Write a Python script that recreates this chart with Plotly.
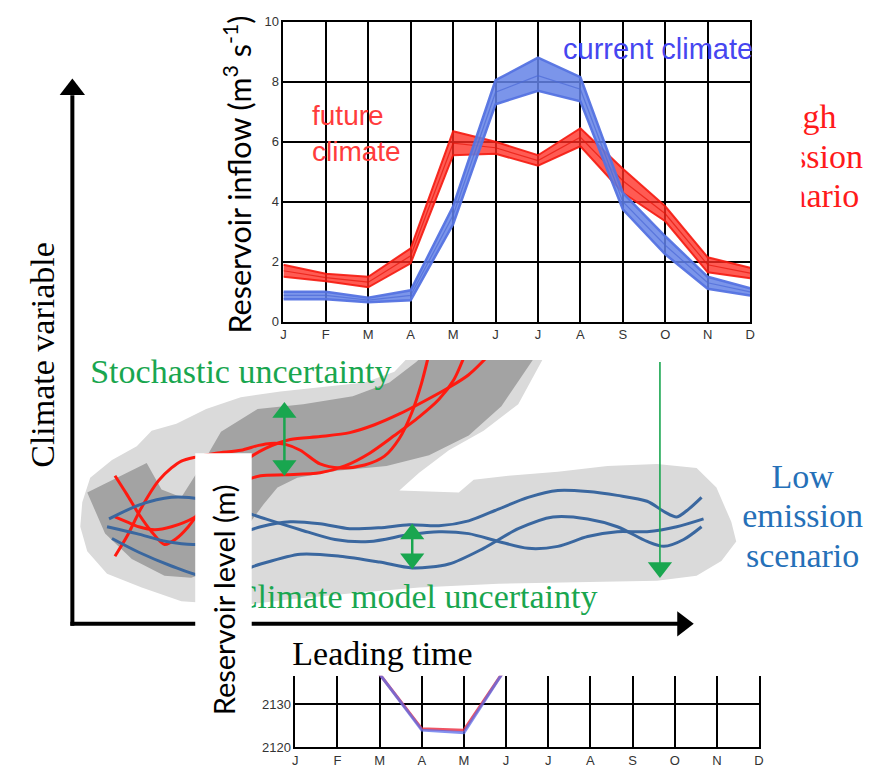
import plotly.graph_objects as go

W, H = 875, 776

# ---------------- upper chart: reservoir inflow (m3 s-1) ----------------
months = ["J", "F", "M", "A", "M", "J", "J", "A", "S", "O", "N", "D"]
month_pos = list(range(12))
future_low = [1.50, 1.35, 1.15, 1.95, 5.55, 5.60, 5.20, 5.85, 4.30, 3.35, 1.65, 1.45]
future_mid = [1.70, 1.47, 1.32, 2.20, 5.95, 5.80, 5.37, 6.15, 4.70, 3.60, 1.90, 1.62]
future_high = [1.90, 1.60, 1.50, 2.45, 6.35, 6.00, 5.55, 6.45, 5.10, 3.85, 2.15, 1.80]
current_low = [0.75, 0.75, 0.65, 0.72, 3.25, 7.25, 7.70, 7.35, 3.75, 2.25, 1.10, 0.88]
current_mid = [0.88, 0.88, 0.72, 0.88, 3.55, 7.65, 8.20, 7.75, 4.00, 2.55, 1.30, 1.00]
current_high = [1.00, 1.00, 0.80, 1.05, 3.85, 8.05, 8.80, 8.15, 4.30, 2.85, 1.50, 1.12]
inflow_ticks = [0, 2, 4, 6, 8, 10]

# ---------------- lower chart: reservoir level (m) ----------------
level_pos = [2, 3, 4, 5]
level_future = [2137.0, 2124.3, 2124.0, 2138.5]
level_current = [2137.0, 2124.0, 2123.4, 2138.5]
level_ticks = [2120, 2130]

# ---------------- schematic (drawn in a pixel-scaled background axis) ----------------
light_x = [80, 88, 110, 135, 150, 175, 205, 240, 280, 320, 365, 395, 425, 555, 520, 485, 450, 420, 400,
           460, 475, 510, 560, 610, 660, 700, 720, 735, 740, 725, 700, 660, 600, 500, 420, 350, 290,
           240, 180, 140, 105, 85, 78, 80]
light_y = [505, 480, 462, 448, 432, 425, 410, 398, 392, 388, 383, 372, 340, 340, 405, 432, 452, 475, 493,
           495, 482, 478, 474, 468, 466, 470, 490, 525, 545, 565, 580, 585, 586, 588, 592, 598, 604,
           610, 606, 592, 578, 555, 530, 505]
dark_x = [85, 145, 160, 180, 200, 220, 257, 303, 353, 390, 417, 440, 548, 533, 503, 470, 430, 387, 337,
          297, 277, 263, 250, 232, 210, 190, 163, 130, 103, 85]
dark_y = [495, 465, 492, 500, 468, 433, 410, 405, 397, 383, 362, 340, 340, 362, 407, 437, 457, 468, 473,
          480, 490, 507, 525, 555, 575, 582, 580, 563, 537, 495]

red1_x = [113, 125, 137, 150, 163, 175, 187, 205, 225, 245, 265, 290, 320, 350, 375, 400, 425, 450, 470, 495]
red1_y = [478, 497, 517, 535, 548, 542, 530, 505, 478, 462, 450, 441, 438, 434, 426, 415, 402, 388, 375, 350]
red2_x = [113, 125, 140, 157, 170, 180, 194, 215, 240, 258, 270, 285, 300, 320, 340, 365, 385, 400, 412, 422, 432]
red2_y = [560, 540, 510, 483, 470, 463, 459, 455, 452, 447, 445, 446, 452, 466, 470, 467, 458, 440, 415, 385, 345]
red3_x = [113, 125, 137, 153, 170, 194, 220, 240, 260, 285, 320, 345, 370, 395, 420, 440, 455, 468]
red3_y = [520, 525, 530, 533, 530, 520, 500, 485, 478, 477, 475, 468, 455, 437, 418, 400, 380, 350]

blue1_x = [107, 137, 170, 200, 235, 265, 300, 335, 370, 410, 440, 470, 500, 530, 560, 590, 620, 650, 680, 707]
blue1_y = [522, 508, 500, 502, 512, 522, 533, 543, 545, 538, 535, 537, 545, 552, 550, 540, 535, 535, 530, 522]
blue2_x = [105, 135, 165, 195, 230, 260, 290, 320, 350, 380, 410, 440, 470, 500, 530, 560, 590, 620, 650, 668, 680, 692, 705]
blue2_y = [530, 537, 545, 548, 540, 530, 525, 527, 532, 531, 528, 529, 524, 512, 500, 493, 494, 498, 504, 515, 520, 512, 500]
blue3_x = [110, 137, 170, 200, 230, 260, 300, 340, 380, 413, 450, 485, 520, 555, 590, 620, 650, 667, 687, 705]
blue3_y = [542, 556, 570, 580, 578, 568, 558, 560, 566, 572, 568, 552, 532, 520, 522, 530, 545, 550, 543, 530]

GREEN = "#19a64f"
RED = "#ff1a10"
BLUE_LINE = "#3a679f"

fig = go.Figure()

def sch(**kw):
    kw.setdefault("hoverinfo", "skip")
    kw.setdefault("showlegend", False)
    fig.add_trace(go.Scatter(xaxis="x", yaxis="y", **kw))

# grey uncertainty clouds
sch(x=light_x, y=light_y, mode="lines", fill="toself", fillcolor="#dadada", line=dict(width=0, color="#dadada"))
sch(x=dark_x, y=dark_y, mode="lines", fill="toself", fillcolor="#a3a3a3", line=dict(width=0, color="#a3a3a3"))

for xs, ys in [(red1_x, red1_y), (red2_x, red2_y), (red3_x, red3_y)]:
    sch(x=xs, y=ys, mode="lines", line=dict(color=RED, width=3, shape="spline", smoothing=0.8))
for xs, ys in [(blue1_x, blue1_y), (blue2_x, blue2_y), (blue3_x, blue3_y)]:
    sch(x=xs, y=ys, mode="lines", line=dict(color=BLUE_LINE, width=3, shape="spline", smoothing=0.8))

# green arrows: (x, y_top_tip, y_bottom_tip, double?, width)
green_arrows = [(284, 403, 478, True, 2.5), (413, 527, 573, True, 2.5), (663, 362, 582, False, 1.6)]
HS = 21
for gx, yt, yb, dbl, lw in green_arrows:
    sch(x=[gx, gx], y=[yt + (HS * 0.6 if dbl else 0), yb - HS * 0.6], mode="lines",
        line=dict(color=GREEN, width=lw))
    sch(x=[gx], y=[yb - HS / 2], mode="markers",
        marker=dict(symbol="triangle-down", size=HS, color=GREEN))
    if dbl:
        sch(x=[gx], y=[yt + HS / 2], mode="markers",
            marker=dict(symbol="triangle-up", size=HS, color=GREEN))

# black schematic axes
AX = 22
sch(x=[70, 70], y=[631, 90], mode="lines", line=dict(color="black", width=4))
sch(x=[70], y=[73 + AX / 2], mode="markers", marker=dict(symbol="triangle-up", size=AX, color="black"))
sch(x=[68, 684], y=[629, 629], mode="lines", line=dict(color="black", width=4))
sch(x=[697 - AX / 2], y=[629], mode="markers", marker=dict(symbol="triangle-right", size=AX, color="black"))

SERIF = "Liberation Serif, Times New Roman, serif"
FS = 34
sch(x=[240], y=[375], mode="text", text=["Stochastic uncertainty"], textposition="middle center",
    textfont=dict(family=SERIF, size=FS, color=GREEN))
sch(x=[417], y=[604], mode="text", text=["Climate model uncertainty"], textposition="middle center",
    textfont=dict(family=SERIF, size=FS, color=GREEN))
sch(x=[383], y=[662], mode="text", text=["Leading time"], textposition="middle center",
    textfont=dict(family=SERIF, size=FS, color="black"))
sch(x=[807, 807, 807], y=[482, 522, 562], mode="text", text=["Low", "emission", "scenario"],
    textposition="middle center", textfont=dict(family=SERIF, size=FS, color="#2570b8"))
sch(x=[807, 807, 807], y=[115, 155, 195], mode="text", text=["High", "emission", "scenario"],
    textposition="middle center", textfont=dict(family=SERIF, size=FS, color="#ff1a1a"))

# white backgrounds of the two inset charts (hide what lies beneath them)
sch(x=[395, 806, 806, 395, 395], y=[0, 0, 360, 360, 0], mode="lines", fill="toself",
    fillcolor="white", line=dict(width=0, color="white"))
sch(x=[194, 251, 251, 194, 194], y=[455, 455, 776, 776, 455], mode="lines", fill="toself",
    fillcolor="white", line=dict(width=0, color="white"))

# ---------------- upper chart traces ----------------
def up(**kw):
    kw.setdefault("hoverinfo", "skip")
    kw.setdefault("showlegend", False)
    fig.add_trace(go.Scatter(xaxis="x2", yaxis="y2", **kw))

up(x=month_pos, y=future_low, mode="lines", line=dict(color="rgba(245,25,15,0.9)", width=2))
up(x=month_pos, y=future_high, mode="lines", fill="tonexty", fillcolor="rgba(255,45,35,0.78)",
   line=dict(color="rgba(245,25,15,0.9)", width=2))
up(x=month_pos, y=future_mid, mode="lines", line=dict(color="rgba(230,20,10,0.7)", width=1.2))
up(x=month_pos, y=current_low, mode="lines", line=dict(color="rgba(85,115,225,0.95)", width=2.5))
up(x=month_pos, y=current_high, mode="lines", fill="tonexty", fillcolor="rgba(100,130,230,0.85)",
   line=dict(color="rgba(85,115,225,0.95)", width=2.5))
up(x=month_pos, y=current_mid, mode="lines", line=dict(color="rgba(75,105,215,0.7)", width=1.2))

# ---------------- lower chart traces ----------------
def low(**kw):
    kw.setdefault("hoverinfo", "skip")
    kw.setdefault("showlegend", False)
    fig.add_trace(go.Scatter(xaxis="x3", yaxis="y3", **kw))

low(x=level_pos, y=level_future, mode="lines", line=dict(color="rgba(235,40,60,0.8)", width=3))
low(x=level_pos, y=level_current, mode="lines", line=dict(color="rgba(90,110,235,0.75)", width=3))

TICKFONT = dict(family="Liberation Sans Narrow, Liberation Sans, Arial", size=13, color="#333333")

def px_x(p):
    return p / W

def px_y(p):
    return 1 - p / H

fig.update_layout(
    width=W, height=H, margin=dict(l=0, r=0, t=0, b=0),
    paper_bgcolor="white", plot_bgcolor="rgba(0,0,0,0)", showlegend=False,
    xaxis=dict(domain=[0, 1], range=[0, W], visible=False, fixedrange=True),
    yaxis=dict(domain=[0, 1], range=[H, 0], visible=False, fixedrange=True),
    xaxis2=dict(domain=[px_x(283), px_x(754)], range=[0, 11], anchor="y2",
                tickvals=month_pos, ticktext=months, ticks="", tickfont=TICKFONT,
                showgrid=True, gridcolor="black", gridwidth=1.5, zeroline=False,
                showline=True, linecolor="black", linewidth=1.5, mirror=True),
    yaxis2=dict(domain=[px_y(321), px_y(15)], range=[0, 10], anchor="x2",
                tickvals=inflow_ticks, ticks="", tickfont=TICKFONT,
                showgrid=True, gridcolor="black", gridwidth=1.5, zeroline=False,
                showline=True, linecolor="black", linewidth=1.5, mirror=True),
    xaxis3=dict(domain=[px_x(295), px_x(763)], range=[0, 11], anchor="y3",
                tickvals=month_pos, ticktext=months, ticks="", tickfont=TICKFONT,
                showgrid=True, gridcolor="black", gridwidth=1.5, zeroline=False,
                showline=True, linecolor="black", linewidth=1.5, mirror=False),
    yaxis3=dict(domain=[px_y(755), px_y(682)], range=[2120, 2136.6], anchor="x3",
                tickvals=level_ticks, ticks="", tickfont=TICKFONT,
                showgrid=True, gridcolor="black", gridwidth=1.5, zeroline=False,
                showline=True, linecolor="black", linewidth=1.5, mirror=True),
    annotations=[
        dict(text="Climate variable", x=px_x(39), y=px_y(355), xref="paper", yref="paper",
             textangle=-90, showarrow=False, xanchor="center", yanchor="middle",
             font=dict(family=SERIF, size=FS, color="black")),
        dict(text="Reservoir inflow (m<sup>3</sup> s<sup>-1</sup>)", x=px_x(236), y=px_y(171),
             xref="paper", yref="paper", textangle=-90, showarrow=False,
             xanchor="center", yanchor="middle", font=dict(family="Lato", size=30.5, color="black")),
        dict(text="Reservoir level (m)", x=px_x(222), y=px_y(604), xref="paper", yref="paper",
             textangle=-90, showarrow=False, xanchor="center", yanchor="middle",
             font=dict(family="Lato", size=29, color="black")),
        dict(text="future<br>climate", x=px_x(310), y=px_y(129), xref="paper", yref="paper",
             showarrow=False, xanchor="left", yanchor="middle", align="left",
             font=dict(family="Liberation Sans, Arial", size=28, color="#ff3c3c")),
        dict(text="current climate", x=px_x(661), y=px_y(43), xref="paper", yref="paper",
             showarrow=False, xanchor="center", yanchor="middle",
             font=dict(family="Liberation Sans, Arial", size=29, color="#4646f0")),
    ],
)

fig.write_html("out.html")
